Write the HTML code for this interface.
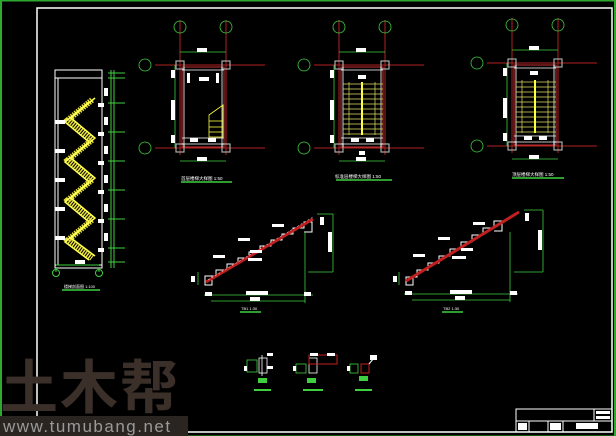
<!DOCTYPE html>
<html><head><meta charset="utf-8"><style>
html,body{margin:0;padding:0;background:#000;width:616px;height:436px;overflow:hidden}
svg{display:block}
text{font-family:"Liberation Sans","Noto Sans CJK SC",sans-serif}
</style></head><body>
<svg width="616" height="436" viewBox="0 0 616 436" xmlns="http://www.w3.org/2000/svg">
<rect width="616" height="436" fill="#000"/>
<rect x="1" y="0.5" width="614" height="436" fill="none" stroke="#2fa82f" stroke-width="2"/>
<rect x="37" y="8" width="575" height="424" fill="none" stroke="#fff" stroke-width="1.5"/>

<text x="0" y="408" font-size="58" font-weight="bold" fill="#3b2f29" style="letter-spacing:2px">土木帮</text>
<rect x="0" y="416" width="188" height="20" fill="#2b2522"/>
<text x="3" y="432" font-size="17" fill="#9a9a9a" style="letter-spacing:1.5px">www.tumubang.net</text>

<g stroke="#fff" fill="none" stroke-width="1">
<rect x="55" y="70" width="47" height="198"/>
<line x1="58" y1="78" x2="58" y2="265"/>
<line x1="55" y1="78" x2="102" y2="78"/>
<line x1="55" y1="265" x2="102" y2="265"/>
</g>
<g stroke="#e8e040" stroke-width="6" fill="none" stroke-dasharray="1.5 1">
<path d="M92 100 L68 120 L92 140 L68 160 L92 180 L68 200 L92 220 L68 240 L92 258"/>
</g>
<g stroke="#ffff50" stroke-width="1.5" fill="none">
<path d="M95 98 L71 118 L95 138 L71 158 L95 178 L71 198 L95 218 L71 238 L95 256"/>
<path d="M89 102 L65 122 L89 142 L65 162 L89 182 L65 202 L89 222 L65 242 L89 260"/>
</g>
<g fill="#fff">
<rect x="55" y="120" width="10" height="4"/><rect x="55" y="149" width="10" height="4"/><rect x="55" y="178" width="10" height="4"/><rect x="55" y="207" width="10" height="4"/><rect x="55" y="236" width="10" height="4"/>
<rect x="98" y="103" width="6" height="4"/><rect x="98" y="132" width="6" height="4"/><rect x="98" y="161" width="6" height="4"/><rect x="98" y="190" width="6" height="4"/><rect x="98" y="219" width="6" height="4"/><rect x="98" y="248" width="6" height="4"/>
<rect x="104" y="88" width="4" height="8"/><rect x="104" y="117" width="4" height="8"/><rect x="104" y="146" width="4" height="8"/><rect x="104" y="175" width="4" height="8"/><rect x="104" y="204" width="4" height="8"/><rect x="104" y="233" width="4" height="8"/>
<rect x="75" y="260" width="10" height="4"/>
</g>
<g stroke="#3fd03f" stroke-width="1">
<line x1="111" y1="70" x2="111" y2="268"/><line x1="114" y1="70" x2="114" y2="268"/>
<line x1="108" y1="73" x2="125" y2="73"/><line x1="108" y1="78" x2="125" y2="78"/>
<line x1="108" y1="103" x2="125" y2="103"/><line x1="108" y1="132" x2="125" y2="132"/><line x1="108" y1="161" x2="125" y2="161"/><line x1="108" y1="190" x2="125" y2="190"/><line x1="108" y1="219" x2="125" y2="219"/><line x1="108" y1="248" x2="125" y2="248"/><line x1="108" y1="262" x2="125" y2="262"/>
<line x1="56" y1="268" x2="56" y2="272"/><line x1="99" y1="268" x2="99" y2="272"/>
<line x1="56" y1="265" x2="99" y2="265"/>
</g>
<g fill="none" stroke="#3fd03f"><circle cx="56" cy="273" r="3.5"/><circle cx="99" cy="273" r="3.5"/></g>
<line x1="62" y1="290" x2="100" y2="290" stroke="#3fd03f" stroke-width="1.5"/>
<text x="64" y="288" font-size="4" fill="#fff">楼梯剖面图 1:100</text>

<defs>
<g id="plan">
<g stroke="#b02020" stroke-width="1">
<line x1="-5" y1="-45" x2="-5" y2="90"/><line x1="41" y1="-45" x2="41" y2="90"/>
<line x1="-30" y1="0" x2="80" y2="0"/><line x1="-30" y1="83" x2="80" y2="83"/>
<rect x="-3" y="2" width="42" height="80" fill="none" stroke="#c03030"/>
</g>
<g stroke="#3fd03f" stroke-width="0.8" fill="none">
<line x1="-5" y1="-13" x2="41" y2="-13"/><line x1="-5" y1="96" x2="41" y2="96"/>
<line x1="-10" y1="0" x2="-10" y2="83"/>
<circle cx="-5" cy="-38" r="6"/><circle cx="41" cy="-38" r="6"/>
<circle cx="-40" cy="0" r="6"/><circle cx="-40" cy="83" r="6"/>
</g>
<g fill="#fff"><rect x="12" y="-17" width="10" height="4"/><rect x="12" y="92" width="10" height="4"/><rect x="-14" y="35" width="4" height="20"/><rect x="-14" y="5" width="4" height="8"/><rect x="-14" y="70" width="4" height="8"/></g>
<g fill="none" stroke="#aaa" stroke-width="1.2"><rect x="-9" y="-4" width="8" height="8"/><rect x="37" y="-4" width="8" height="8"/><rect x="-9" y="79" width="8" height="8"/><rect x="37" y="79" width="8" height="8"/></g>
<g stroke="#fff" stroke-width="0.8" fill="none"><line x1="-3" y1="5" x2="39" y2="5"/><line x1="-3" y1="73" x2="39" y2="73"/><line x1="-3" y1="79" x2="39" y2="79"/><line x1="-1" y1="2" x2="-1" y2="82"/><line x1="37" y1="2" x2="37" y2="82"/></g>
</g>
<g id="flights" stroke="#e0e060" stroke-width="0.7">
<line x1="-1" y1="19" x2="39" y2="19"/><line x1="-1" y1="24" x2="39" y2="24"/><line x1="-1" y1="29" x2="39" y2="29"/><line x1="-1" y1="34" x2="39" y2="34"/><line x1="-1" y1="39" x2="39" y2="39"/><line x1="-1" y1="44" x2="39" y2="44"/><line x1="-1" y1="49" x2="39" y2="49"/><line x1="-1" y1="54" x2="39" y2="54"/><line x1="-1" y1="59" x2="39" y2="59"/><line x1="-1" y1="64" x2="39" y2="64"/><line x1="-1" y1="69" x2="39" y2="69"/>
<line x1="18" y1="17" x2="18" y2="70" stroke="#ffff40" stroke-width="2"/>
<line x1="5" y1="17" x2="5" y2="70"/><line x1="31" y1="17" x2="31" y2="70"/>
</g>
</defs>

<g transform="translate(185,65)"><use href="#plan"/>
<g stroke="#ffff40" fill="none" stroke-width="0.8"><path d="M24 50 L38 40 V72 H24 Z"/><line x1="24" y1="56" x2="38" y2="56"/><line x1="24" y1="62" x2="38" y2="62"/><line x1="24" y1="67" x2="38" y2="67"/></g>
<g fill="#fff"><rect x="14" y="12" width="10" height="4"/><rect x="5" y="73" width="8" height="4"/><rect x="23" y="73" width="8" height="4"/><rect x="2" y="8" width="3" height="10"/><rect x="31" y="8" width="3" height="10"/></g>
</g>
<text x="181" y="180" font-size="4.5" fill="#fff">首层楼梯大样图 1:50</text>
<line x1="181" y1="182" x2="232" y2="182" stroke="#3fd03f" stroke-width="1.5"/>

<g transform="translate(344,65)"><use href="#plan"/><use href="#flights"/>
<g fill="#fff"><rect x="14" y="10" width="8" height="4"/><rect x="7" y="73" width="8" height="4"/><rect x="22" y="73" width="8" height="4"/><rect x="15" y="86" width="6" height="4"/></g>
</g>
<text x="335" y="178" font-size="4.5" fill="#fff">标准层楼梯大样图 1:50</text>
<line x1="336" y1="180" x2="392" y2="180" stroke="#3fd03f" stroke-width="1.5"/>

<g transform="translate(517,63)"><use href="#plan"/><use href="#flights"/>
<g fill="#fff"><rect x="13" y="8" width="8" height="4"/><rect x="7" y="73" width="8" height="4"/><rect x="22" y="73" width="8" height="4"/></g>
</g>
<text x="512" y="176" font-size="4.5" fill="#fff">顶层楼梯大样图 1:50</text>
<line x1="512" y1="178" x2="564" y2="178" stroke="#3fd03f" stroke-width="1.5"/>

<path d="M205 285 V276 h11 v-6 h11 v-6 h11 v-6 h11 v-6 h11 v-6 h11 v-6 h11 v-6 h11 v-6 h11 v-6 h8 v10 h-8" fill="none" stroke="#fff" stroke-width="1"/>
<rect x="205" y="276" width="7" height="9" fill="none" stroke="#fff"/>
<line x1="206" y1="282" x2="313" y2="219" stroke="#c02020" stroke-width="3"/>
<line x1="208" y1="280" x2="313" y2="217" stroke="#fff" stroke-width="0.5" stroke-dasharray="2 2"/>
<g stroke="#3fd03f" stroke-width="0.8" fill="none">
<line x1="211" y1="301" x2="305" y2="301"/><line x1="204" y1="295" x2="313" y2="295"/>
<line x1="305" y1="232" x2="305" y2="303"/><line x1="308" y1="272" x2="333" y2="272"/>
<line x1="333" y1="214" x2="333" y2="272"/><line x1="317" y1="214" x2="333" y2="214"/>
<line x1="198" y1="272" x2="198" y2="285"/>
</g>
<g fill="#fff"><rect x="246" y="291" width="22" height="4"/><rect x="250" y="297" width="10" height="4"/><rect x="328" y="232" width="4" height="20"/><rect x="320" y="217" width="4" height="8"/><rect x="191" y="276" width="4" height="6"/><rect x="205" y="292" width="7" height="4"/><rect x="304" y="292" width="7" height="4"/>
<rect x="272" y="224" width="12" height="3"/><rect x="238" y="238" width="12" height="3"/><rect x="213" y="255" width="12" height="3"/><rect x="250" y="250" width="12" height="3"/><rect x="248" y="258" width="14" height="3"/></g>
<text x="241" y="310" font-size="4" fill="#fff">TB1 1:30</text>
<line x1="240" y1="312" x2="261" y2="312" stroke="#3fd03f" stroke-width="1.5"/>

<path d="M406 285 V277 h11 v-7 h11 v-7 h11 v-7 h11 v-7 h11 v-7 h11 v-7 h11 v-7 h11 v-7 h8 v10 h-8" fill="none" stroke="#fff" stroke-width="1"/>
<rect x="406" y="277" width="7" height="8" fill="none" stroke="#fff"/>
<line x1="406" y1="281" x2="519" y2="212" stroke="#c02020" stroke-width="3"/>
<g stroke="#3fd03f" stroke-width="0.8" fill="none">
<line x1="412" y1="300" x2="510" y2="300"/><line x1="404" y1="294" x2="518" y2="294"/>
<line x1="510" y1="232" x2="510" y2="302"/><line x1="514" y1="272" x2="543" y2="272"/>
<line x1="543" y1="210" x2="543" y2="272"/><line x1="524" y1="210" x2="543" y2="210"/>
<line x1="399" y1="272" x2="399" y2="285"/>
</g>
<g fill="#fff"><rect x="450" y="290" width="22" height="4"/><rect x="455" y="296" width="10" height="4"/><rect x="538" y="230" width="4" height="20"/><rect x="525" y="213" width="4" height="8"/><rect x="393" y="276" width="4" height="6"/><rect x="405" y="291" width="7" height="4"/><rect x="510" y="291" width="7" height="4"/>
<rect x="473" y="222" width="12" height="3"/><rect x="438" y="237" width="12" height="3"/><rect x="413" y="254" width="12" height="3"/><rect x="461" y="248" width="12" height="3"/><rect x="452" y="256" width="14" height="3"/></g>
<text x="443" y="310" font-size="4" fill="#fff">TB2 1:30</text>
<line x1="442" y1="312" x2="463" y2="312" stroke="#3fd03f" stroke-width="1.5"/>

<g stroke="#3fd03f" fill="none" stroke-width="0.8">
<rect x="247" y="360" width="10" height="12"/><rect x="296" y="364" width="10" height="9"/><rect x="350" y="364" width="8" height="9"/>
</g>
<g stroke="#fff" fill="none" stroke-width="0.8"><rect x="259" y="358" width="8" height="15"/><line x1="262" y1="355" x2="262" y2="376"/><rect x="309" y="358" width="8" height="15"/></g>
<g stroke="#c02020" fill="none" stroke-width="1"><rect x="309" y="355" width="28" height="9"/><rect x="361" y="364" width="8" height="9"/><line x1="369" y1="364" x2="374" y2="358" stroke="#fff"/></g>
<g fill="#fff"><rect x="267" y="353" width="6" height="3"/><rect x="267" y="366" width="6" height="3"/><rect x="310" y="353" width="8" height="3"/><rect x="327" y="353" width="8" height="3"/><rect x="370" y="355" width="7" height="5"/><rect x="244" y="366" width="3" height="5"/><rect x="293" y="366" width="3" height="5"/><rect x="347" y="366" width="3" height="5"/></g>
<g fill="#3fd03f"><rect x="258" y="378" width="9" height="5"/><rect x="307" y="378" width="9" height="5"/><rect x="359" y="376" width="9" height="5"/>
<rect x="254" y="389" width="17" height="2"/><rect x="303" y="389" width="20" height="2"/><rect x="355" y="389" width="17" height="2"/></g>

<g stroke="#fff" fill="none" stroke-width="1">
<rect x="516" y="409" width="96" height="23"/>
<line x1="516" y1="421" x2="612" y2="421"/>
<line x1="594" y1="409" x2="594" y2="421"/>
<line x1="529" y1="421" x2="529" y2="432"/><line x1="548" y1="421" x2="548" y2="432"/><line x1="563" y1="421" x2="563" y2="432"/>
</g>
<g fill="#fff"><rect x="596" y="411" width="14" height="3"/><rect x="596" y="416" width="14" height="3"/><rect x="518" y="423" width="9" height="7"/><rect x="550" y="423" width="11" height="7"/><rect x="576" y="423" width="22" height="6"/></g>
</svg>
</body></html>
